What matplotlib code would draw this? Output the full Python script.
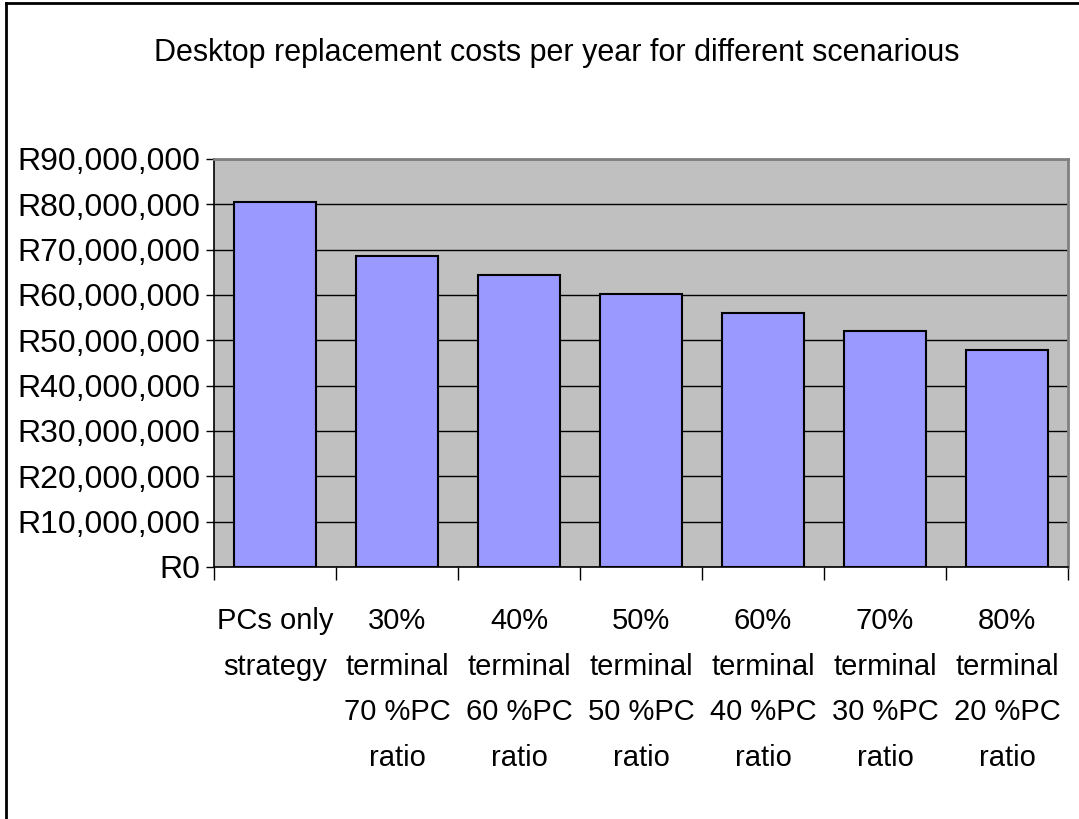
import matplotlib
matplotlib.use("Agg")
import matplotlib.pyplot as plt
from matplotlib.lines import Line2D
from matplotlib.ticker import FuncFormatter, MultipleLocator, FixedLocator

categories = [
    "PCs only\nstrategy",
    "30%\nterminal\n70 %PC\nratio",
    "40%\nterminal\n60 %PC\nratio",
    "50%\nterminal\n50 %PC\nratio",
    "60%\nterminal\n40 %PC\nratio",
    "70%\nterminal\n30 %PC\nratio",
    "80%\nterminal\n20 %PC\nratio",
]
costs = [80600000, 68600000, 64400000, 60300000, 56100000, 52000000, 47800000]

plt.rcParams['font.family'] = ['Liberation Sans', 'DejaVu Sans']

fig = plt.figure(figsize=(10.79, 8.19), dpi=100)
ax = fig.add_axes([0.1983, 0.3077, 0.7915, 0.4982])
ax.set_facecolor("#C0C0C0")

x = list(range(len(categories)))
ax.bar(x, costs, width=0.667, color="#9999FF", edgecolor="black", linewidth=1.5, zorder=3)

ax.set_xlim(-0.5, len(categories) - 0.5)
ax.set_ylim(0, 90000000)
ax.yaxis.set_major_locator(MultipleLocator(10000000))
ax.yaxis.set_major_formatter(FuncFormatter(lambda v, p: "R{:,.0f}".format(v)))
ax.grid(axis="y", color="black", linewidth=1, zorder=1)

ax.set_xticks(x)
ax.set_xticklabels(categories, fontsize=21, linespacing=1.8)
ax.xaxis.set_minor_locator(FixedLocator([i - 0.5 for i in range(len(categories) + 1)]))
ax.tick_params(axis="x", which="major", length=0, pad=29)
ax.tick_params(axis="x", which="minor", length=9, width=1, color="black", direction="out")
ax.tick_params(axis="y", length=6, width=1, labelsize=23, pad=4, direction="out")

for s in ["top", "right"]:
    ax.spines[s].set_color("#808080")
    ax.spines[s].set_linewidth(2)
for s in ["left", "bottom"]:
    ax.spines[s].set_color("black")
    ax.spines[s].set_linewidth(1.2)

fig.text(557 / 1079, 1 - 53 / 819, "Desktop replacement costs per year for different scenarious",
         ha="center", va="center", fontsize=22)

# chart border (only left and top edges are visible in the original crop)
fig.lines.append(Line2D([6 / 1079, 6 / 1079], [0, 1 - 3 / 819], transform=fig.transFigure,
                        color="black", linewidth=2))
fig.lines.append(Line2D([6 / 1079, 1], [1 - 3 / 819, 1 - 3 / 819], transform=fig.transFigure,
                        color="black", linewidth=2))

fig.savefig("out.png", dpi=100)
